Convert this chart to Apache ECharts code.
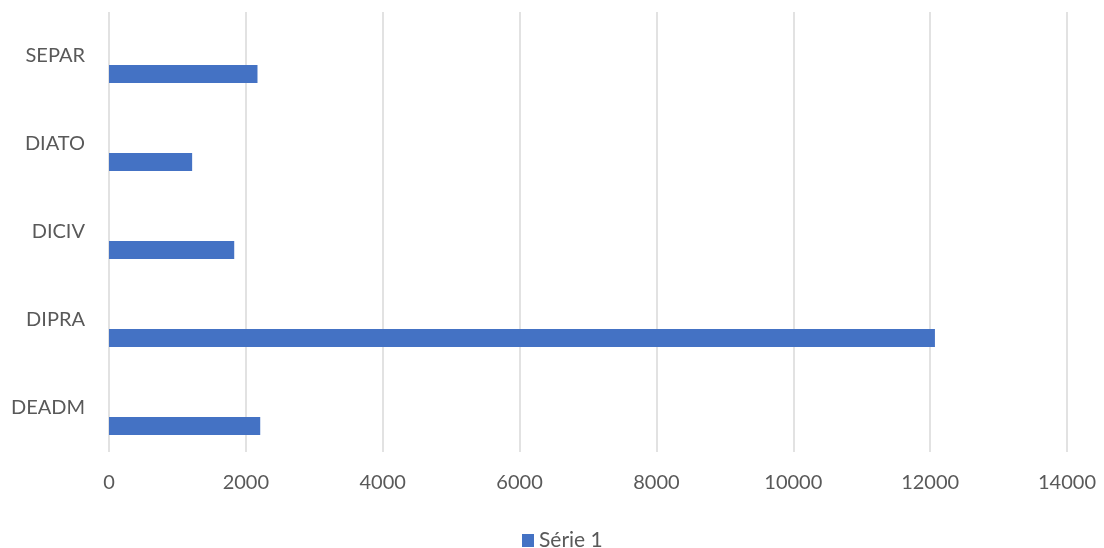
<!DOCTYPE html>
<html>
<head>
<meta charset="utf-8">
<script src="https://cdn.jsdelivr.net/npm/echarts@6/dist/echarts.min.js"></script>
<style>html,body{margin:0;padding:0;background:#fff;}#c{width:1104px;height:548px;}</style>
</head>
<body>
<div id="c"></div>
<script>
const categories = ['DEADM', 'DIPRA', 'DICIV', 'DIATO', 'SEPAR'];
const serie1 = [2210, 12070, 1830, 1215, 2170];
const xTicks = { min: 0, max: 14000, interval: 2000 };

const chart = echarts.init(document.getElementById('c'));
const font = 'Lato, "Open Sans", sans-serif';
chart.setOption({
  animation: false,
  grid: { left: 109, right: 37, top: 12, bottom: 96, containLabel: false },
  legend: {
    data: ['Série 1'],
    left: 517,
    top: 525,
    icon: 'rect',
    itemWidth: 12,
    itemHeight: 13,
    itemGap: 6,
    textStyle: { color: '#595959', fontSize: 21, fontFamily: font, padding: [0, 0, 0, 0] }
  },
  xAxis: {
    type: 'value',
    min: xTicks.min, max: xTicks.max, interval: xTicks.interval,
    axisLine: { show: false },
    axisTick: { show: false },
    axisLabel: { color: '#595959', fontSize: 20, fontFamily: font, margin: 21,
      formatter: v => String(v) },
    splitLine: { show: true, lineStyle: { color: '#d9d9d9', width: 1.5 } }
  },
  yAxis: {
    type: 'category',
    data: categories,
    axisLine: { show: false },
    axisTick: { show: false },
    axisLabel: { color: '#595959', fontSize: 20, fontFamily: font, margin: 24 },
    splitLine: { show: false }
  },
  series: [
    { name: 'empty a', type: 'bar', data: [], barWidth: 18, barGap: '0%' },
    { name: 'empty b', type: 'bar', data: [], barWidth: 18, barGap: '0%' },
    { name: 'Série 1', type: 'bar', data: serie1, barWidth: 18, barGap: '0%',
      itemStyle: { color: '#4472C4' } }
  ]
});
</script>
</body>
</html>
